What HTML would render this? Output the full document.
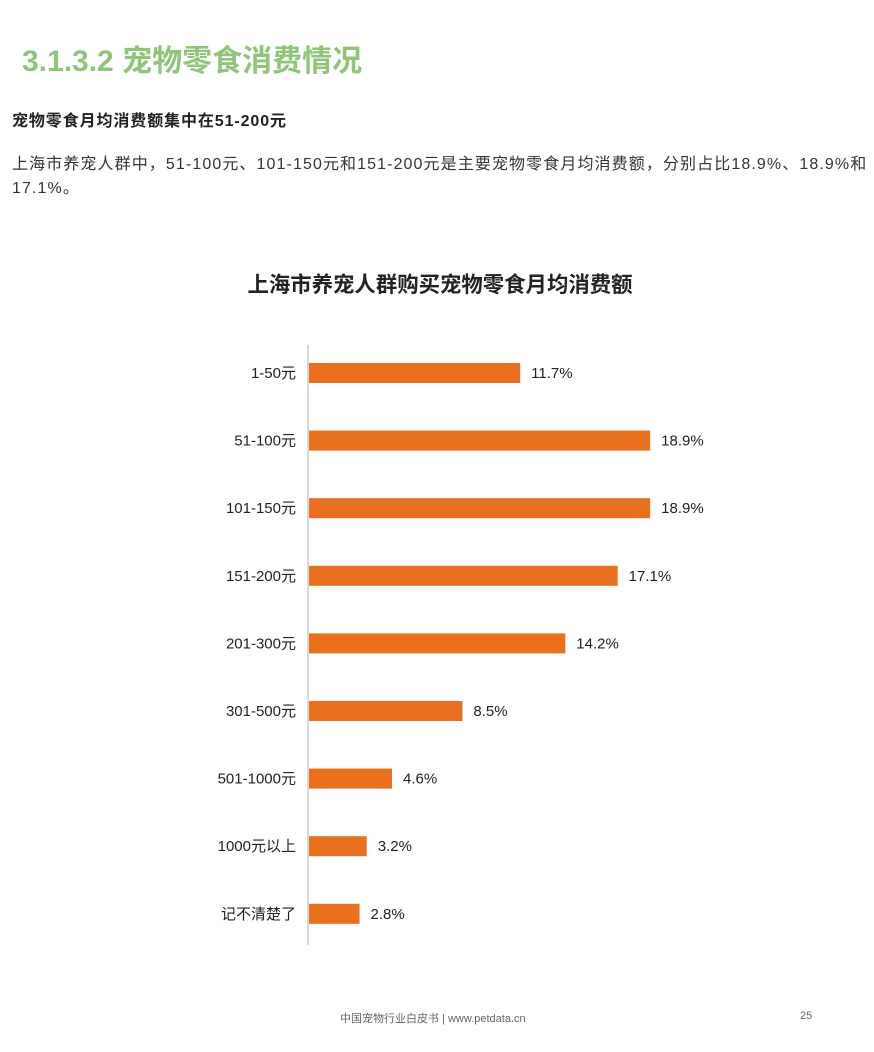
<!DOCTYPE html>
<html><head><meta charset="utf-8"><style>
body{margin:0;width:874px;height:1052px;background:#fff;position:relative;overflow:hidden;font-family:"Liberation Sans","Noto Sans CJK SC",sans-serif;}
.t{position:absolute;white-space:nowrap;}
</style></head><body>
<div class="t" style="left:22px;top:36px;font-size:30px;font-weight:bold;color:#8fc47a;">3.1.3.2 宠物零食消费情况</div>
<div class="t" style="left:12px;top:107px;font-size:16px;letter-spacing:0.9px;font-weight:bold;color:#222;">宠物零食月均消费额集中在51-200元</div>
<div class="t" style="left:12px;top:153px;font-size:16px;letter-spacing:1.1px;line-height:24px;color:#333;">上海市养宠人群中，51-100元、101-150元和151-200元是主要宠物零食月均消费额，分别占比18.9%、18.9%和<br>17.1%。</div>
<svg id="chart" width="874" height="1052" style="position:absolute;left:0;top:0;">
<text x="440" y="292" text-anchor="middle" font-size="21.4" font-weight="bold" fill="#222">上海市养宠人群购买宠物零食月均消费额</text>
<line x1="308" y1="345" x2="308" y2="945" stroke="#ccc" stroke-width="1.5"/>
<g id="bars"></g>
</svg>
<div class="t" style="left:340px;top:1010px;font-size:11px;color:#666;">中国宠物行业白皮书 | www.petdata.cn</div>
<div class="t" style="left:800px;top:1010px;font-size:11px;color:#666;">25</div>
<script>
const categories=["1-50元","51-100元","101-150元","151-200元","201-300元","301-500元","501-1000元","1000元以上","记不清楚了"];
const values=[11.7,18.9,18.9,17.1,14.2,8.5,4.6,3.2,2.8];
const x=v=>309+v*18.05;
const y=i=>373+i*67.6;
const g=document.getElementById('bars');
const ns="http://www.w3.org/2000/svg";
categories.forEach((c,i)=>{
const r=document.createElementNS(ns,'rect');


r.setAttribute('x',309);r.setAttribute('y',y(i)-10);r.setAttribute('width',x(values[i])-309);r.setAttribute('height',20);r.setAttribute('fill','#e8701f');
g.appendChild(r);
const l=document.createElementNS(ns,'text');


l.setAttribute('x',296);l.setAttribute('y',y(i)+5);l.setAttribute('text-anchor','end');l.setAttribute('font-size','15');l.setAttribute('fill','#222');
l.textContent=c;g.appendChild(l);
const v=document.createElementNS(ns,'text');


v.setAttribute('x',x(values[i])+11);v.setAttribute('y',y(i)+5);v.setAttribute('font-size','15');v.setAttribute('fill','#222');
v.textContent=values[i].toFixed(1)+'%';g.appendChild(v);
});
</script>
</body></html>
